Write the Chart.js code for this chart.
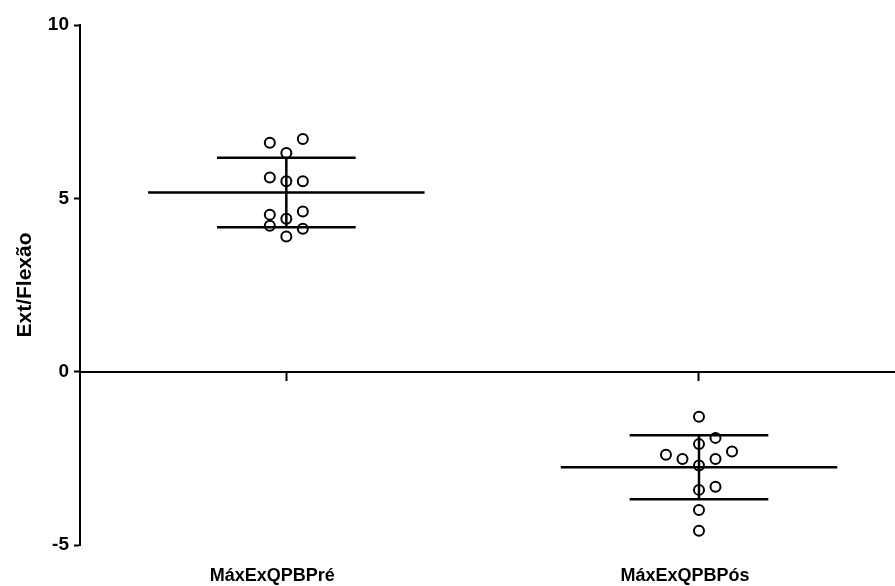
<!DOCTYPE html>
<html>
<head>
    <title>Ext/Flexão</title>
    <script src="https://cdn.jsdelivr.net/npm/chart.js"></script>
    <style>
        html, body { margin: 0; padding: 0; background: #fff; overflow: hidden; }
        #box { width: 895px; height: 586px; }
    </style>
</head>
<body>
    <div id="box">
        <canvas id="graf"></canvas>
    </div>

    <script>
        // Categorias e valores
        const categorias = ['MáxExQPBPré', 'MáxExQPBPós'];
        const valoresPre = [6.60, 6.71, 6.31, 5.60, 5.49, 5.49, 4.53, 4.62, 4.41, 4.21, 4.12, 3.90];
        const colunasPre = [-1, 1, 0, -1, 0, 1, -1, 1, 0, -1, 1, 0];
        const valoresPos = [-1.30, -1.91, -2.09, -2.40, -2.52, -2.52, -2.30, -2.71, -3.32, -3.41, -3.99, -4.59];
        const colunasPos = [0, 1, 0, -2, -1, 1, 2, 0, 1, 0, 0, 0];
        const ticksY = [-5, 0, 5, 10];

        const PASSO = 0.04;      // espaçamento horizontal entre pontos
        const MEIA_MEDIA = 0.335;
        const MEIA_DP = 0.168;
        const fonte = "'Liberation Sans', Arial, sans-serif";

        function media(v) {
            return v.reduce((a, b) => a + b, 0) / v.length;
        }
        function desvio(v) {
            const m = media(v);
            return Math.sqrt(v.reduce((a, b) => a + (b - m) * (b - m), 0) / (v.length - 1));
        }

        function pontos(valores, colunas, centro) {
            return valores.map((y, i) => ({ x: centro + colunas[i] * PASSO, y: y }));
        }

        function linha(dados) {
            return {
                type: 'scatter',
                data: dados,
                showLine: true,
                borderColor: '#000',
                borderWidth: 2.5,
                pointRadius: 0,
                fill: false
            };
        }

        // média e desvio padrão de cada grupo
        function barrasErro(valores, centro) {
            const m = media(valores);
            const s = desvio(valores);
            return [
                linha([{ x: centro - MEIA_MEDIA, y: m }, { x: centro + MEIA_MEDIA, y: m }]),
                linha([{ x: centro - MEIA_DP, y: m + s }, { x: centro + MEIA_DP, y: m + s }]),
                linha([{ x: centro - MEIA_DP, y: m - s }, { x: centro + MEIA_DP, y: m - s }]),
                linha([{ x: centro, y: m - s }, { x: centro, y: m + s }])
            ];
        }

        function grupo(valores, colunas, centro) {
            return {
                type: 'scatter',
                data: pontos(valores, colunas, centro),
                pointStyle: 'circle',
                pointRadius: 5,
                pointBorderWidth: 2,
                borderColor: '#000',
                backgroundColor: 'rgba(0,0,0,0)'
            };
        }

        const soCategorias = (s) => { s.ticks = categorias.map((c, i) => ({ value: i + 1 })); };

        const ctx = document.getElementById('graf').getContext('2d');
        new Chart(ctx, {
            type: 'scatter',
            data: {
                datasets: [
                    ...barrasErro(valoresPre, 1),
                    ...barrasErro(valoresPos, 2),
                    grupo(valoresPre, colunasPre, 1),
                    grupo(valoresPos, colunasPos, 2)
                ]
            },
            options: {
                responsive: true,
                maintainAspectRatio: false,
                animation: false,
                layout: { autoPadding: false, padding: { top: 25, left: 0, right: 0, bottom: 0 } },
                plugins: {
                    legend: { display: false },
                    tooltip: { enabled: false }
                },
                scales: {
                    x: {
                        type: 'linear',
                        min: 0.5,
                        max: 2.475,
                        position: { y: 0 },
                        afterBuildTicks: soCategorias,
                        border: { display: true, width: 2, color: '#000' },
                        grid: {
                            display: true,
                            drawOnChartArea: false,
                            drawTicks: true,
                            tickLength: 8,
                            tickWidth: 2,
                            color: '#000'
                        },
                        ticks: { display: false }
                    },
                    xLab: {
                        type: 'linear',
                        axis: 'x',
                        min: 0.5,
                        max: 2.475,
                        position: 'bottom',
                        afterBuildTicks: soCategorias,
                        afterFit: (s) => { s.height = 41; },
                        border: { display: false },
                        grid: { display: false, drawTicks: false },
                        ticks: {
                            color: '#000',
                            padding: 20,
                            labelOffset: -14,
                            maxRotation: 0,
                            autoSkip: false,
                            font: { family: fonte, size: 18, weight: 'bold' },
                            callback: (v) => categorias[v - 1]
                        }
                    },
                    y: {
                        min: -5,
                        max: 10,
                        afterBuildTicks: (s) => { s.ticks = ticksY.map(v => ({ value: v })); },
                        afterFit: (s) => { s.width = 80; },
                        border: { display: true, width: 2, color: '#000' },
                        grid: {
                            drawOnChartArea: false,
                            drawTicks: true,
                            tickLength: 6,
                            tickWidth: 2,
                            color: '#000'
                        },
                        ticks: {
                            color: '#000',
                            padding: 5,
                            font: { family: fonte, size: 19, weight: 'bold' }
                        },
                        title: {
                            display: true,
                            text: 'Ext/Flexão',
                            color: '#000',
                            padding: { top: 13, bottom: 0 },
                            font: { family: fonte, size: 21, weight: 'bold' }
                        }
                    }
                }
            }
        });
    </script>
</body>
</html>
